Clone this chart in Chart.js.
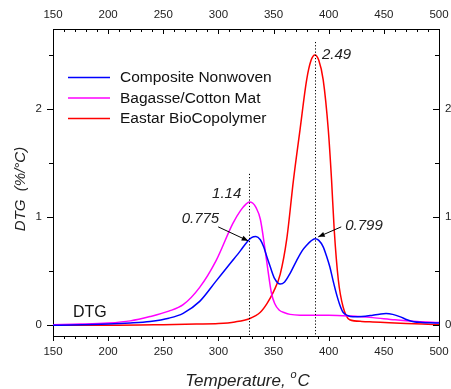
<!DOCTYPE html>
<html>
<head>
<meta charset="utf-8">
<script src="https://cdn.jsdelivr.net/npm/chart.js@4/dist/chart.umd.min.js"></script>
<style>
html,body{margin:0;padding:0;background:#fff;}
#wrap{width:451px;height:389px;}
</style>
</head>
<body>
<div id="wrap"><canvas id="c" width="451" height="389"></canvas></div>
<script>
// ---- data ----
const compositeT   = [150,200,220,238,255,268,283,298,313,320,326,330,334,338,341,344,347,351,356,360,365,371,376,380,384,387.5,391,395,398,401,404,407,410,413,417,422,430,440,446,452,458,465,471,477,485,492,500];
const compositeDTG = [0.0,0.01,0.02,0.035,0.065,0.11,0.22,0.41,0.6,0.69,0.77,0.81,0.82,0.79,0.725,0.63,0.54,0.43,0.38,0.40,0.48,0.6,0.69,0.74,0.78,0.80,0.785,0.725,0.64,0.54,0.41,0.29,0.19,0.12,0.09,0.077,0.08,0.093,0.102,0.108,0.1,0.077,0.05,0.032,0.025,0.022,0.02];

const bagasseT   = [150,175,200,220,238,255,268,283,298,313,320,325,328,331,334,338,342,345,348,351,355,360,365,374,400,420,440,460,480,500];
const bagasseDTG = [0.005,0.01,0.02,0.04,0.08,0.13,0.19,0.35,0.6,0.94,1.06,1.12,1.14,1.13,1.09,0.98,0.72,0.5,0.3,0.2,0.14,0.115,0.1,0.093,0.093,0.085,0.07,0.05,0.035,0.025];

const eastarT   = [150,200,250,280,300,315,328,338,344,350,356,362,368,374,380,384,387.5,391,395,399.6,402.6,405,408.7,413,419,430,440,455,470,485,500];
const eastarDTG = [0.0,0.0,0.005,0.01,0.015,0.03,0.06,0.12,0.2,0.31,0.47,0.8,1.34,1.81,2.27,2.45,2.50,2.45,2.27,1.81,1.34,0.88,0.42,0.17,0.05,0.035,0.03,0.022,0.015,0.01,0.003];

const seriesNames  = ['Composite Nonwoven','Bagasse/Cotton Mat','Eastar BioCopolymer'];
const seriesColors = ['#0000ff','#ff00ff','#ff0000'];

const xTickValues = [150,200,250,300,350,400,450,500];
const yTickValues = [0,1,2];

// peak annotations
const peakMarks = [
  {t:328,  v:1.14,  text:'1.14'},
  {t:387.5,v:2.49,  text:'2.49'}
];
const arrowMarks = [
  {t:327,  v:0.78,  text:'0.775'},
  {t:390.5,v:0.817, text:'0.799'}
];

function pts(ts, vs){ return ts.map((t,i)=>({x:t,y:vs[i]})); }

const FONT = '"Liberation Sans", Arial, Helvetica, sans-serif';

const decor = {
  id:'decor',
  afterDraw(chart){
    const ctx = chart.ctx;
    const xs = chart.scales.x, ys = chart.scales.y;
    const a = chart.chartArea;
    ctx.save();
    ctx.strokeStyle = '#000';
    ctx.lineWidth = 1;
    ctx.beginPath();
    for (let t=150; t<=500; t+=10){
      const px = Math.round(xs.getPixelForValue(t))+0.5;
      const major = t%50===0;
      const L = major?5:3;
      ctx.moveTo(px, a.bottom); ctx.lineTo(px, a.bottom+L);
      ctx.moveTo(px, a.top); ctx.lineTo(px, a.top+L);
    }
    for (let k=0; k<=5; k++){
      const v = k*0.5;
      const py = Math.round(ys.getPixelForValue(v))+0.5;
      const major = k%2===0;
      const L = major?6:4;
      ctx.moveTo(a.left, py); ctx.lineTo(a.left-L, py);
      ctx.moveTo(a.right, py); ctx.lineTo(a.right-L, py);
    }
    ctx.stroke();

    ctx.setLineDash([1.2,2]);
    const tops = [1.40, 2.62];
    peakMarks.forEach((m,i)=>{
      const px = Math.round(xs.getPixelForValue(m.t))+0.5;
      ctx.beginPath();
      ctx.moveTo(px, ys.getPixelForValue(tops[i]));
      ctx.lineTo(px, a.bottom);
      ctx.stroke();
    });
    ctx.setLineDash([]);

    ctx.fillStyle = '#222';
    ctx.font = 'italic 15px '+FONT;
    ctx.textBaseline = 'alphabetic';
    {
      const m = peakMarks[0];
      const px = xs.getPixelForValue(m.t), py = ys.getPixelForValue(m.v);
      ctx.textAlign = 'right';
      ctx.fillText(m.text, px-8, py-4);
    }
    {
      const m = peakMarks[1];
      const px = xs.getPixelForValue(m.t), py = ys.getPixelForValue(m.v);
      ctx.textAlign = 'left';
      ctx.fillText(m.text, px+7, py+3);
    }
    function arrow(x0,y0,x1,y1){
      ctx.beginPath(); ctx.moveTo(x0,y0); ctx.lineTo(x1,y1); ctx.stroke();
      const ang = Math.atan2(y1-y0,x1-x0), h=7, w=0.38;
      ctx.beginPath();
      ctx.moveTo(x1,y1);
      ctx.lineTo(x1-h*Math.cos(ang-w), y1-h*Math.sin(ang-w));
      ctx.lineTo(x1-h*Math.cos(ang+w), y1-h*Math.sin(ang+w));
      ctx.closePath(); ctx.fillStyle='#000'; ctx.fill();
    }
    {
      const m = arrowMarks[0];
      const px = xs.getPixelForValue(m.t), py = ys.getPixelForValue(m.v);
      arrow(px-30, py-14, px, py);
      ctx.fillStyle = '#222';
      ctx.textAlign = 'right';
      ctx.fillText(m.text, px-29, py-18);
    }
    {
      const m = arrowMarks[1];
      const px = xs.getPixelForValue(m.t), py = ys.getPixelForValue(m.v);
      arrow(px+23, py-10, px, py);
      ctx.fillStyle = '#222';
      ctx.textAlign = 'left';
      ctx.fillText(m.text, px+27, py-7);
    }

    ctx.font = '15.5px '+FONT;
    ctx.textAlign = 'left';
    ctx.textBaseline = 'middle';
    const ly = [77.5, 98, 118.5];
    seriesNames.forEach((n,i)=>{
      ctx.strokeStyle = seriesColors[i];
      ctx.lineWidth = 1.3;
      ctx.beginPath(); ctx.moveTo(68, ly[i]); ctx.lineTo(110, ly[i]); ctx.stroke();
      ctx.fillStyle = '#111';
      ctx.fillText(n, 120, ly[i]+0.5);
    });

    ctx.font = '16px '+FONT;
    ctx.textBaseline = 'alphabetic';
    ctx.fillStyle = '#111';
    ctx.fillText('DTG', 73, 317);

    ctx.font = 'italic 17px '+FONT;
    const s1 = 'Temperature, ', s2 = 'o', s3 = 'C';
    const w1 = ctx.measureText(s1).width;
    ctx.font = 'italic 11px '+FONT;
    const w2 = ctx.measureText(s2).width;
    ctx.font = 'italic 17px '+FONT;
    const w3 = ctx.measureText(s3).width;
    let x0 = 247 - (w1+w2+w3)/2;
    ctx.textAlign = 'left';
    ctx.fillStyle = '#222';
    ctx.fillText(s1, x0, 386);
    ctx.font = 'italic 11px '+FONT;
    ctx.fillText(s2, x0+w1, 378);
    ctx.font = 'italic 17px '+FONT;
    ctx.fillText(s3, x0+w1+w2+1, 386);

    ctx.save();
    ctx.translate(25, 189);
    ctx.rotate(-Math.PI/2);
    ctx.font = 'italic 15px '+FONT;
    ctx.textAlign = 'center';
    ctx.fillText('DTG  (%/\u00B0C)', 0, 0);
    ctx.restore();

    ctx.restore();
  }
};

const tickFont = {family: FONT, size: 11.5};
const tickColor = '#222';

function fitH(h){ return s => { s.height = h; s.paddingLeft = 0; s.paddingRight = 0; s.paddingTop = 0; s.paddingBottom = 0; }; }
function fitW(w){ return s => { s.width = w; s.paddingLeft = 0; s.paddingRight = 0; s.paddingTop = 0; s.paddingBottom = 0; }; }

new Chart(document.getElementById('c'), {
  type: 'line',
  data: {
    datasets: [
      {label: seriesNames[0], data: pts(compositeT, compositeDTG), borderColor: seriesColors[0]},
      {label: seriesNames[1], data: pts(bagasseT, bagasseDTG), borderColor: seriesColors[1]},
      {label: seriesNames[2], data: pts(eastarT, eastarDTG), borderColor: seriesColors[2]}
    ].map(d=>Object.assign(d,{borderWidth:1.5, pointRadius:0, fill:false, cubicInterpolationMode:'monotone', xAxisID:'x', yAxisID:'y'}))
  },
  options: {
    responsive: false,
    animation: false,
    events: [],
    layout: {padding: 0},
    plugins: {legend: {display:false}, tooltip: {enabled:false}},
    scales: {
      x: {
        type:'linear', position:'bottom', min:150, max:500,
        afterBuildTicks: s => { s.ticks = xTickValues.map(v=>({value:v})); },
        afterFit: fitH(53),
        grid: {display:false, drawTicks:false},
        border: {display:true, color:'#000', width:1},
        ticks: {font: tickFont, color: tickColor, padding: 9, maxRotation:0, autoSkip:false}
      },
      x2: {
        type:'linear', position:'top', min:150, max:500,
        afterBuildTicks: s => { s.ticks = xTickValues.map(v=>({value:v})); },
        afterFit: fitH(29),
        grid: {display:false, drawTicks:false},
        border: {display:true, color:'#000', width:1},
        ticks: {font: tickFont, color: tickColor, padding: 7, maxRotation:0, autoSkip:false}
      },
      y: {
        type:'linear', position:'left', min:-0.1, max:2.74,
        afterBuildTicks: s => { s.ticks = yTickValues.map(v=>({value:v})); },
        afterFit: fitW(53),
        grid: {display:false, drawTicks:false},
        border: {display:true, color:'#000', width:1},
        ticks: {font: tickFont, color: tickColor, padding: 11}
      },
      y2: {
        type:'linear', position:'right', min:-0.1, max:2.74,
        afterBuildTicks: s => { s.ticks = yTickValues.map(v=>({value:v})); },
        afterFit: fitW(12),
        grid: {display:false, drawTicks:false},
        border: {display:true, color:'#000', width:1},
        ticks: {font: tickFont, color: tickColor, padding: 6}
      }
    }
  },
  plugins: [decor]
});
</script>
</body>
</html>
